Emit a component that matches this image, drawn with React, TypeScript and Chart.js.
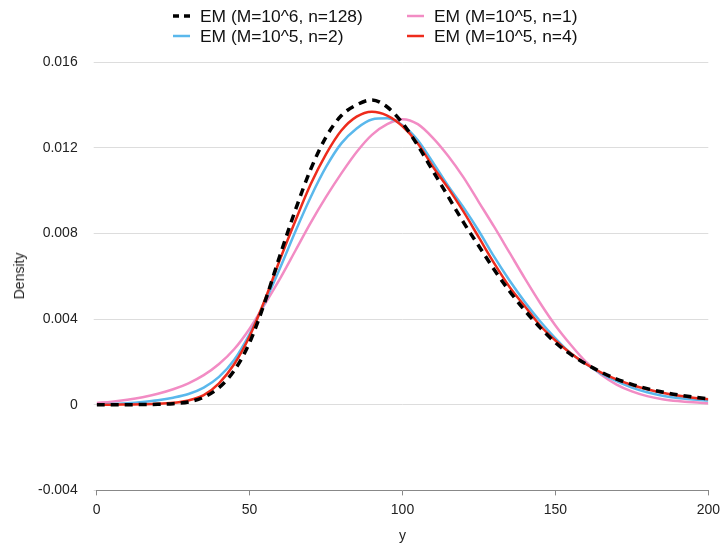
import React, { useEffect, useRef } from "react";
import { Chart, registerables } from "chart.js";

Chart.register(...registerables);

const xValues = [
  0, 5, 10, 15, 20, 25, 30, 35, 40, 45, 50, 55, 60, 65, 70, 75, 80, 85, 90, 95, 100,
  105, 110, 115, 120, 125, 130, 135, 140, 145, 150, 155, 160, 165, 170, 175, 180, 185, 190, 195, 200,
];

// EM (M=10^6, n=128) — black dashed
const emM6n128 = [
  0, 0, 0, 0.00001, 0.00002, 0.00005, 0.00013, 0.00035, 0.0008, 0.0016, 0.0029, 0.0048, 0.007,
  0.0091, 0.011, 0.0125, 0.0135, 0.014, 0.01423, 0.0139, 0.01315, 0.0121, 0.0109, 0.0097,
  0.0085, 0.0074, 0.0063, 0.0053, 0.0044, 0.0036, 0.0029, 0.00235, 0.0019, 0.00152, 0.0012, 0.00095,
  0.00075, 0.00059, 0.00046, 0.00036, 0.00028,
];

// EM (M=10^5, n=1) — pink
const emM5n1 = [
  0.00008, 0.00014, 0.00023, 0.00035, 0.00051, 0.00072, 0.001, 0.00138, 0.0019, 0.0026, 0.00355, 0.0047,
  0.0059, 0.0072, 0.0085, 0.0097, 0.0108, 0.0118, 0.0126, 0.0131, 0.01333, 0.0131, 0.01245, 0.0116,
  0.0106, 0.00945, 0.0083, 0.0071, 0.0059, 0.00475, 0.0037, 0.0028, 0.002, 0.0014, 0.00094, 0.00062,
  0.0004, 0.00026, 0.00017, 0.00011, 0.00007,
];

// EM (M=10^5, n=2) — blue
const emM5n2 = [
  0.00001, 0.00003, 0.00007, 0.00013, 0.00021, 0.00033, 0.0005, 0.0008, 0.0013, 0.0021, 0.0033, 0.0048,
  0.0064, 0.0081, 0.0097, 0.0111, 0.0122, 0.0129, 0.01332, 0.01337, 0.01305, 0.01235, 0.0113, 0.0102,
  0.0092, 0.0081, 0.0069, 0.0058, 0.0048, 0.0039, 0.0031, 0.0024, 0.0019, 0.00145, 0.0011, 0.0008,
  0.00058, 0.00042, 0.00031, 0.00024, 0.0002,
];

// EM (M=10^5, n=4) — red
const emM5n4 = [
  0, 0, 0.00001, 0.00002, 0.00004, 0.00009, 0.0002, 0.00045, 0.001, 0.0019, 0.0032, 0.0049, 0.0068,
  0.0086, 0.0103, 0.0117, 0.0128, 0.01345, 0.01368, 0.0135, 0.013, 0.0122, 0.0111, 0.0101, 0.009,
  0.0078, 0.0066, 0.0055, 0.0046, 0.0037, 0.003, 0.0024, 0.0019, 0.0015, 0.00118, 0.00092, 0.00072,
  0.00056, 0.00043, 0.00033, 0.00025,
];

const seriesLabels = [
  "EM (M=10^6, n=128)",
  "EM (M=10^5, n=1)",
  "EM (M=10^5, n=2)",
  "EM (M=10^5, n=4)",
];
const seriesColors = ["#000000", "#f28cc4", "#5ab8ec", "#ee2b1c"];
const xTitle = "y";
const yTitle = "Density";

const FONT = "'Liberation Sans', Arial, Helvetica, sans-serif";
const CANVAS_W = 726;

function toPoints(ys: number[]) {
  return xValues.map((x, i) => ({ x, y: ys[i] }));
}

function LegendItem({ label, color, dashed, left, top }: { label: string; color: string; dashed?: boolean; left: number; top: number }) {
  return (
    <div style={{ position: "absolute", left, top, height: 20, display: "flex", alignItems: "center", whiteSpace: "nowrap" }}>
      <svg width={18} height={20} style={{ display: "block" }}>
        <line x1={0} y1={10} x2={17} y2={10} stroke={color} strokeWidth={dashed ? 3.5 : 2.5} strokeDasharray={dashed ? "6 5" : undefined} />
      </svg>
      <span style={{ marginLeft: 9, fontFamily: FONT, fontSize: 17.4, color: "#111", lineHeight: "20px" }}>{label}</span>
    </div>
  );
}

export default function App() {
  const canvasRef = useRef<HTMLCanvasElement | null>(null);

  useEffect(() => {
    if (!canvasRef.current) return;
    const datasets = [
      { label: seriesLabels[0], data: toPoints(emM6n128), borderColor: seriesColors[0], borderWidth: 3.5, borderDash: [8, 6], order: 0 },
      { label: seriesLabels[1], data: toPoints(emM5n1), borderColor: seriesColors[1], borderWidth: 2.5, order: 3 },
      { label: seriesLabels[2], data: toPoints(emM5n2), borderColor: seriesColors[2], borderWidth: 2.5, order: 2 },
      { label: seriesLabels[3], data: toPoints(emM5n4), borderColor: seriesColors[3], borderWidth: 2.5, order: 1 },
    ].map((d) => ({ ...d, pointRadius: 0, fill: false, cubicInterpolationMode: "monotone" as const }));

    const chart = new Chart(canvasRef.current, {
      type: "line",
      data: { datasets },
      options: {
        animation: false,
        responsive: false,
        maintainAspectRatio: false,
        layout: { padding: { top: 62, right: 0, bottom: 0, left: 22 } },
        plugins: { legend: { display: false }, tooltip: { enabled: false } },
        scales: {
          x: {
            type: "linear",
            min: 0,
            max: 200,
            ticks: { stepSize: 50, font: { family: FONT, size: 14 }, color: "#222", padding: 6 },
            grid: { display: true, drawOnChartArea: false, drawTicks: true, tickLength: 5, color: "#888" },
            border: { display: true, color: "#888", width: 1 },
            title: { display: true, text: xTitle, font: { family: FONT, size: 14 }, color: "#222", padding: { top: 4, bottom: 0 } },
          },
          y: {
            type: "linear",
            min: -0.004,
            max: 0.016,
            ticks: {
              stepSize: 0.004,
              font: { family: FONT, size: 14 },
              color: "#222",
              padding: 16,
              callback: (v: any) => String(Number(Number(v).toFixed(3))),
            },
            grid: { color: "#dddddd", lineWidth: 1, drawTicks: true, tickLength: 3 },
            border: { display: false },
          },
        },
      },
    });
    return () => chart.destroy();
  }, []);

  return (
    <div style={{ position: "absolute", left: 0, top: 0, width: 721, height: 545, background: "#fff", overflow: "hidden" }}>
      <canvas ref={canvasRef} width={CANVAS_W} height={545} style={{ position: "absolute", left: 0, top: 0, width: CANVAS_W, height: 545 }} />
      <div
        style={{
          position: "absolute",
          left: 19,
          top: 276,
          transform: "translate(-50%, -50%) rotate(-90deg)",
          fontFamily: FONT,
          fontSize: 14,
          color: "#222",
          whiteSpace: "nowrap",
          lineHeight: "16px",
        }}
      >
        {yTitle}
      </div>
      <LegendItem label={seriesLabels[0]} color={seriesColors[0]} dashed left={173} top={6} />
      <LegendItem label={seriesLabels[1]} color={seriesColors[1]} left={407} top={6} />
      <LegendItem label={seriesLabels[2]} color={seriesColors[2]} left={173} top={26} />
      <LegendItem label={seriesLabels[3]} color={seriesColors[3]} left={407} top={26} />
    </div>
  );
}
